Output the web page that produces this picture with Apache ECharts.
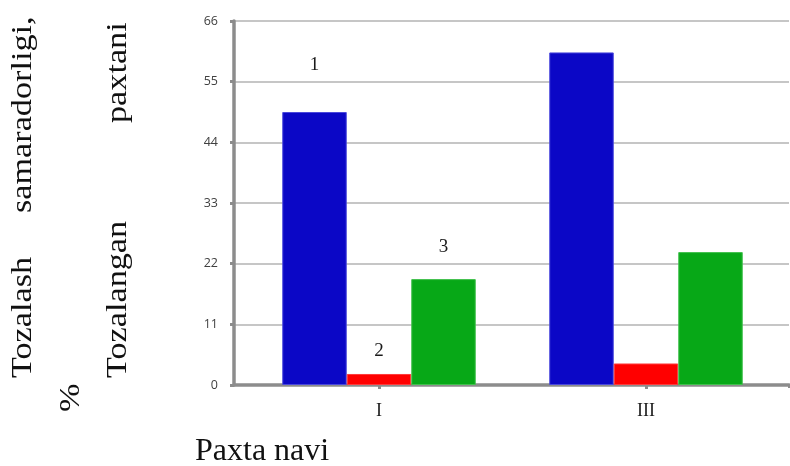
<!DOCTYPE html>
<html>
<head>
<meta charset="utf-8">
<script src="https://cdn.jsdelivr.net/npm/echarts@6/dist/echarts.min.js"></script>
<style>
html,body{margin:0;padding:0;background:#fff;}
#c{width:790px;height:466px;}
</style>
</head>
<body>
<div id="c"></div>
<script>
const categories = ['I', 'III'];
const series1 = [49.5, 60.3];
const series2 = [2.0, 3.9];
const series3 = [19.2, 24.1];
const seriesNames = ['1', '2', '3'];
const yMin = 0, yMax = 66, yStep = 11;

const labelDist = [37, 13.5, 23];
const colors = ['#0b07c6', '#ff0000', '#07a817'];
const borders = ['#4a48dc', '#ff3a3a', '#40c04c'];
const serif = '"Liberation Serif", "Times New Roman", serif';

function mkSeries(vals, idx) {
  return {
    type: 'bar',
    name: seriesNames[idx],
    xAxisIndex: 1, yAxisIndex: 1,
    barWidth: 64.5,
    barGap: '0%',
    itemStyle: { color: colors[idx], borderColor: borders[idx], borderWidth: 1 },
    data: vals.map((v, i) => i === 0 ? {
      value: v,
      label: { show: true, position: 'top', distance: labelDist[idx], formatter: seriesNames[idx],
               fontFamily: serif, fontSize: 19, color: '#1a1a1a' }
    } : { value: v }),
    animation: false
  };
}

const chart = echarts.init(document.getElementById('c'), null, { renderer: 'canvas' });
const axisGray = '#8c8c8c';
const titleFont = 'normal 400 30px ' + serif;
chart.setOption({
  backgroundColor: '#fff',
  animation: false,
  grid: [
    { left: 234, right: 1, top: 21, bottom: 81 },
    { left: 245.5, width: 534, top: 21, bottom: 81 }
  ],
  xAxis: [
    { type: 'value', gridIndex: 0, min: 0, max: 1, interval: 1,
      axisLine: { show: true, lineStyle: { color: axisGray, width: 3.5 } },
      axisTick: { show: true, customValues: [1], length: 3, lineStyle: { color: axisGray, width: 3 } },
      axisLabel: { show: false }, splitLine: { show: false } },
    { type: 'category', gridIndex: 1, data: categories,
      axisLine: { show: false },
      axisTick: { show: true, alignWithLabel: true, length: 4, lineStyle: { color: axisGray, width: 3 } },
      axisLabel: { fontFamily: serif, fontSize: 18, color: '#1a1a1a', margin: 17 } }
  ],
  yAxis: [
    { type: 'value', gridIndex: 0, min: yMin, max: yMax, interval: yStep,
      axisLine: { show: true, lineStyle: { color: axisGray, width: 3.5 } },
      axisTick: { show: true, length: 4, lineStyle: { color: axisGray, width: 3 } },
      axisLabel: { fontFamily: '"Open Sans", sans-serif', fontSize: 12.5, color: '#404040', margin: 16 },
      splitLine: { show: true, lineStyle: { color: '#b3b3b3', width: 1.5 } } },
    { type: 'value', gridIndex: 1, min: yMin, max: yMax, interval: yStep, show: false }
  ],
  series: [mkSeries(series1, 0), mkSeries(series2, 1), mkSeries(series3, 2)],
  graphic: [
    { type: 'text', x: 23, y: 378, rotation: Math.PI / 2, scaleX: 1.14,
      style: { text: 'Tozalash', font: titleFont, fill: '#111', align: 'left', verticalAlign: 'middle' } },
    { type: 'text', x: 23, y: 213, rotation: Math.PI / 2, scaleX: 1.14,
      style: { text: 'samaradorligi,', font: titleFont, fill: '#111', align: 'left', verticalAlign: 'middle' } },
    { type: 'text', x: 118, y: 378, rotation: Math.PI / 2, scaleX: 1.14,
      style: { text: 'Tozalangan', font: titleFont, fill: '#111', align: 'left', verticalAlign: 'middle' } },
    { type: 'text', x: 118, y: 123, rotation: Math.PI / 2, scaleX: 1.14,
      style: { text: 'paxtani', font: titleFont, fill: '#111', align: 'left', verticalAlign: 'middle' } },
    { type: 'text', x: 71, y: 412, rotation: Math.PI / 2, scaleX: 1.14,
      style: { text: '%', font: titleFont, fill: '#111', align: 'left', verticalAlign: 'middle' } },
    { type: 'text', x: 195, y: 452,
      style: { text: 'Paxta navi', font: 'normal 400 32px ' + serif, fill: '#111', align: 'left', verticalAlign: 'middle' } }
  ]
});
</script>
</body>
</html>
